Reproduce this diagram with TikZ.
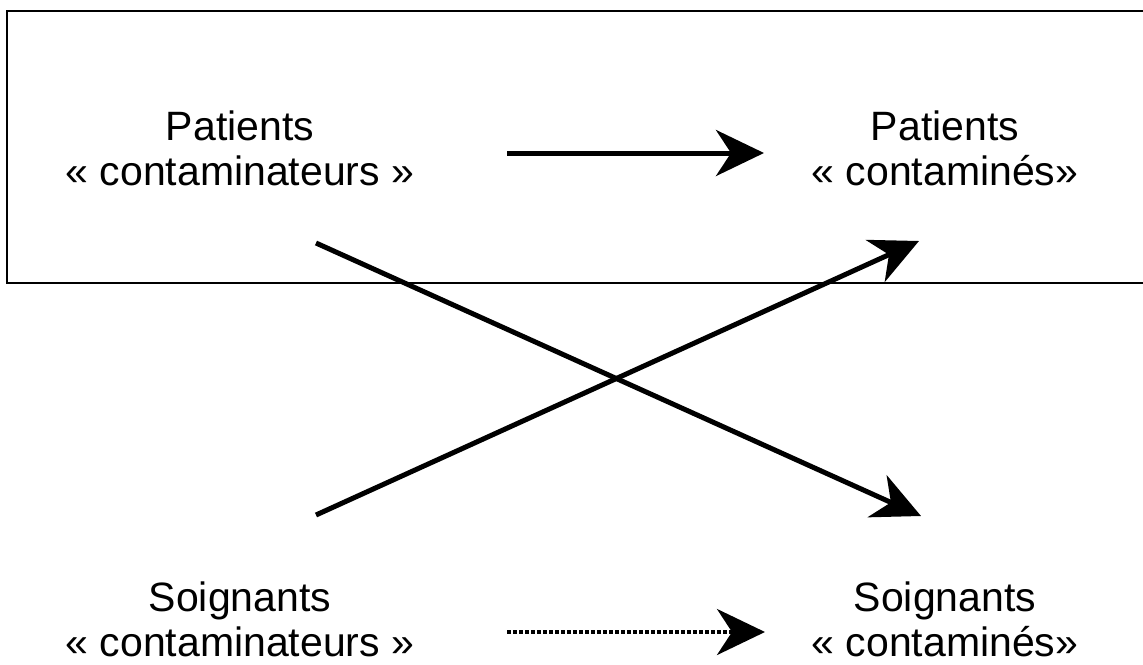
\documentclass[tikz,border=0pt]{standalone}
\usepackage{fontspec}
\setmainfont{Liberation Sans}
\usetikzlibrary{arrows.meta,positioning}

\begin{document}
\begin{tikzpicture}
[x=1pt, y=-1pt, >={Stealth[length=48pt, width=46pt, inset=15pt]},
every node/.style={align=center, font=\fontsize{41}{45}\selectfont},
flow/.style={->, line width=5pt},
weak/.style={->, line width=4pt, dash pattern=on 3.5pt off 2.5pt}
]
  \useasboundingbox (0,0) rectangle (1143,664);
  \draw[line width=2pt] (7,11) rectangle (1160,283);

  \node (patC) at (240,148) {Patients\\« contaminateurs »};
  \node (patD) at (945,148) {Patients\\« contaminés»};
  \node (soiC) at (240,619) {Soignants\\« contaminateurs »};
  \node (soiD) at (945,619) {Soignants\\« contaminés»};

  \coordinate (a1) at (507,153);
  \coordinate (a2) at (764,153);
  \coordinate (b1) at (316,243);
  \coordinate (b2) at (921,516);
  \coordinate (c1) at (316,515);
  \coordinate (c2) at (919,241);
  \coordinate (d1) at (507,632);
  \coordinate (d2) at (765,632);

  \path
	(a1) edge [flow] (a2)
	(b1) edge [flow] (b2)
	(c1) edge [flow] (c2)
	(d1) edge [weak] (d2)
    ;
\end{tikzpicture}
\end{document}
